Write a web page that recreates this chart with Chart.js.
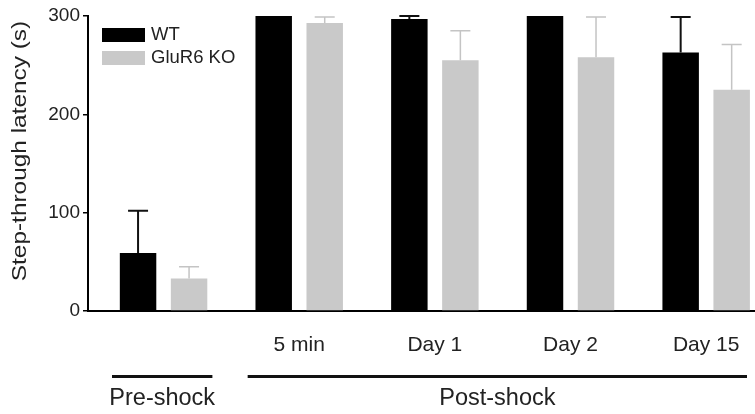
<!DOCTYPE html>
<html>
<head>
<meta charset="utf-8">
<script src="https://cdn.jsdelivr.net/npm/chart.js@4/dist/chart.umd.min.js"></script>
<style>
  html, body { margin: 0; padding: 0; background: #fff; }
  canvas { display: block; }
</style>
</head>
<body>
<canvas id="latencyChart" width="755" height="414"></canvas>
<script>
"use strict";

// values
const timeLabels = ['', '5 min', 'Day 1', 'Day 2', 'Day 15'];
const wtMeans = [59, 300, 297, 300, 263];
const wtErrors = [43, 0, 3, 0, 36];
const koMeans = [33, 293, 255, 258, 225];
const koErrors = [12, 6, 30, 41, 46];
const yTicks = [0, 100, 200, 300];
const phaseGroups = [
    { label: 'Pre-shock', first: 0, last: 0 },
    { label: 'Post-shock', first: 1, last: 4 }
];

const FONT = "'Liberation Sans', Arial, Helvetica, sans-serif";

const toPoints = (means) => means.map((v, i) => ({ x: i, y: v }));

// upper error bars with caps
const errorBars = {
    id: 'errorBars',
    afterDatasetsDraw(chart) {
        const { ctx } = chart;
        const yScale = chart.scales.y;
        chart.data.datasets.forEach((ds, di) => {
            const meta = chart.getDatasetMeta(di);
            ctx.save();
            ctx.strokeStyle = ds.errorColor;
            ctx.lineWidth = ds.errorWidth;
            meta.data.forEach((bar, i) => {
                const err = ds.errors[i];
                if (!err) return;
                const yTop = yScale.getPixelForValue(ds.data[i].y + err);
                ctx.beginPath();
                ctx.moveTo(bar.x, bar.y);
                ctx.lineTo(bar.x, yTop);
                ctx.moveTo(bar.x - 10, yTop);
                ctx.lineTo(bar.x + 10, yTop);
                ctx.stroke();
            });
            ctx.restore();
        });
    }
};

// legend in the top-left corner of the plot
const cornerLegend = {
    id: 'cornerLegend',
    afterDraw(chart) {
        const { ctx } = chart;
        ctx.save();
        ctx.font = '18.5px ' + FONT;
        ctx.textBaseline = 'middle';
        chart.data.datasets.forEach((ds, i) => {
            const y = 28 + i * 23;
            ctx.fillStyle = ds.backgroundColor;
            ctx.fillRect(102, y, 43, 14);
            ctx.fillStyle = '#222';
            ctx.fillText(ds.label, 151, y + 7);
        });
        ctx.restore();
    }
};

// y title, stretched along its length like the original figure
const yTitle = {
    id: 'yTitle',
    afterDraw(chart) {
        const { ctx } = chart;
        ctx.save();
        ctx.translate(20, 151);
        ctx.rotate(-Math.PI / 2);
        ctx.scale(1.22, 1);
        ctx.font = '20px ' + FONT;
        ctx.fillStyle = '#222';
        ctx.textAlign = 'center';
        ctx.textBaseline = 'middle';
        ctx.fillText('Step-through latency (s)', 0, 0);
        ctx.restore();
    }
};

// Pre-shock / Post-shock brackets under the axis
const phaseBrackets = {
    id: 'phaseBrackets',
    afterDraw(chart) {
        const { ctx, chartArea } = chart;
        const xs = chart.scales.x;
        ctx.save();
        phaseGroups.forEach(g => {
            const x1 = xs.getPixelForValue(g.first - 0.38);
            const x2 = Math.min(xs.getPixelForValue(g.last + 0.36), chartArea.right - 8);
            ctx.strokeStyle = '#111';
            ctx.lineWidth = 3;
            ctx.beginPath();
            ctx.moveTo(x1, 376.5);
            ctx.lineTo(x2, 376.5);
            ctx.stroke();
            ctx.font = '23.5px ' + FONT;
            ctx.fillStyle = '#222';
            ctx.textAlign = 'center';
            ctx.textBaseline = 'middle';
            ctx.fillText(g.label, (x1 + x2) / 2, 399);
        });
        ctx.restore();
    }
};

new Chart(document.getElementById('latencyChart'), {
    type: 'bar',
    data: {
        datasets: [
            {
                label: 'WT',
                data: toPoints(wtMeans),
                errors: wtErrors,
                backgroundColor: '#000000',
                errorColor: '#111111',
                errorWidth: 2
            },
            {
                label: 'GluR6 KO',
                data: toPoints(koMeans),
                errors: koErrors,
                backgroundColor: '#c9c9c9',
                errorColor: '#c4c4c4',
                errorWidth: 1.5
            }
        ]
    },
    options: {
        responsive: false,
        animation: false,
        devicePixelRatio: 1,
        categoryPercentage: 0.752,
        barPercentage: 0.715,
        layout: { padding: { top: 16, left: 0, right: 0, bottom: 0 } },
        plugins: {
            legend: { display: false },
            tooltip: { enabled: false }
        },
        scales: {
            x: {
                type: 'linear',
                offset: false,
                min: -0.557,
                max: 4.36,
                afterBuildTicks: (scale) => {
                    scale.ticks = timeLabels.map((_, i) => ({ value: i }));
                },
                afterFit: (scale) => { scale.height = 103; },
                // tick marks hidden, their length only pushes the labels down
                grid: { display: false, drawTicks: true, tickLength: 22, offset: false },
                border: { display: true, color: '#000', width: 2 },
                ticks: {
                    padding: 0,
                    autoSkip: false,
                    maxRotation: 0,
                    color: '#222',
                    font: { family: FONT, size: 21 },
                    callback: (v) => timeLabels[v] ?? ''
                }
            },
            y: {
                min: 0,
                max: 300,
                afterBuildTicks: (scale) => {
                    scale.ticks = yTicks.map(v => ({ value: v }));
                },
                afterFit: (scale) => { scale.width = 88; },
                grid: { drawOnChartArea: false, drawTicks: true, tickLength: 5, color: '#000', lineWidth: 1.5 },
                border: { display: true, color: '#000', width: 2 },
                ticks: {
                    padding: 3,
                    color: '#222',
                    font: { family: FONT, size: 19 }
                }
            }
        }
    },
    plugins: [errorBars, cornerLegend, yTitle, phaseBrackets]
});
</script>
</body>
</html>
